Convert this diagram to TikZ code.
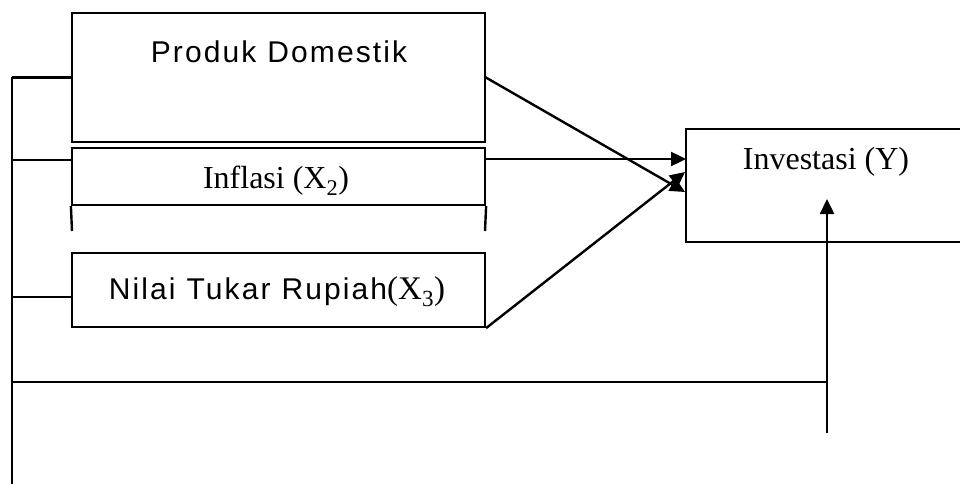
\documentclass[tikz,border=0pt]{standalone}
\usepackage{fontspec}
\setmainfont{Liberation Serif}
\newfontfamily\arialf[LetterSpace=7]{Liberation Sans}
\usetikzlibrary{arrows.meta}
\begin{document}
\begin{tikzpicture}[x=1pt,y=-1pt,
  box/.style={draw,line width=2.2pt,rectangle,inner sep=0pt},
  ln/.style={line width=2.4pt},
  arr/.style={line width=2.4pt,-{Triangle[length=15pt,width=14pt]}},
  sanslbl/.style={font=\arialf\fontsize{30}{33}\selectfont,inner sep=0pt},
  seriflbl/.style={font=\fontsize{32}{35}\selectfont,inner sep=0pt}]
\useasboundingbox (0,0) rectangle (960,484);
\clip (0,0) rectangle (960,484);
% boxes
\node[box,minimum width=413pt,minimum height=129pt] (pd) at (278.5,77.5) {};
\node[sanslbl] (pdt) at (279,52) {Produk\hspace{11pt}Domestik};
\node[box,minimum width=413pt,minimum height=57pt] (inf) at (278.5,176.5) {};
\node[seriflbl] (inft) at (276,181) {Inflasi (X\textsubscript{2})};
\coordinate (infbl) at (72,231);
\coordinate (infbr) at (485,231);
\draw[ln] (inf.south west) -- (infbl);
\draw[ln] (inf.south east) -- (infbr);
\node[box,minimum width=413pt,minimum height=74pt] (nt) at (278.5,290) {};
\node[sanslbl] (ntt) at (277,292) {Nilai\hspace{11pt}Tukar\hspace{11pt}Rupiah{\rmfamily\fontsize{33}{35}\selectfont(X\textsubscript{3})}};
\node[box,minimum width=280pt,minimum height=113pt] (inv) at (826,185.5) {};
\node[seriflbl] (invt) at (826,162) {Investasi (Y)};
% left bracket lines
\coordinate (ltop) at (12,77.5);
\coordinate (lbot) at (12,486);
\coordinate (l2) at (12,160);
\coordinate (inf2) at (72,160);
\coordinate (l3) at (12,297);
\coordinate (nt3) at (72,297);
\coordinate (l4) at (12,382);
\coordinate (r4) at (827,382);
\coordinate (ybot) at (827,433);
\coordinate (ytip) at (827,199);
\draw[ln] (ltop) -- (lbot);
\draw[ln] (ltop) -- (pd.west);
\draw[ln] (l2) -- (inf2);
\draw[ln] (l3) -- (nt3);
\draw[ln] (l4) -- (r4);
\draw[arr] (ybot) -- (ytip);
% arrows to Investasi
\coordinate (a1) at (485,77);
\coordinate (t1) at (685,192);
\coordinate (a2) at (485,159);
\coordinate (t2) at (686,159);
\coordinate (t3) at (685,172);
\draw[arr] (a1) -- (t1);
\draw[arr] (a2) -- (t2);
\draw[arr] (nt.south east) -- (t3);
\end{tikzpicture}
\end{document}
